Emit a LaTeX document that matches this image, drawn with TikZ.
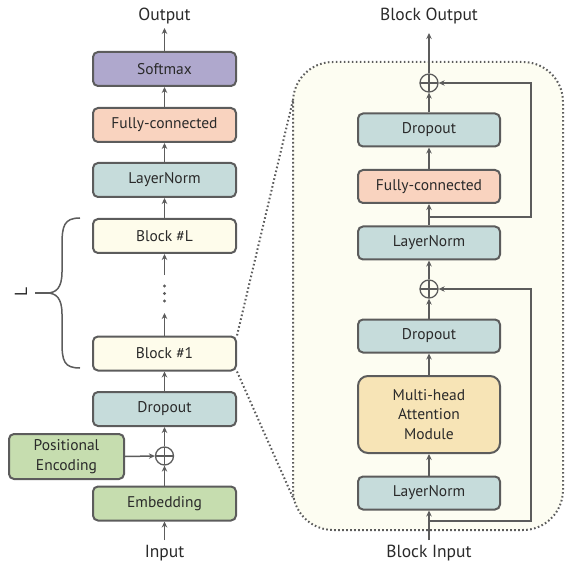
\documentclass[tikz,border=0pt]{standalone}
\usepackage{fontspec}
\setmainfont{PT Sans}
\usetikzlibrary{arrows.meta}
\definecolor{edge}{HTML}{5C5C5C}
\definecolor{txt}{HTML}{2A2A2A}
\definecolor{cpurple}{HTML}{AFA8CD}
\definecolor{csalmon}{HTML}{F9D3BF}
\definecolor{cteal}{HTML}{C6DCDB}
\definecolor{ccream}{HTML}{FEFCEB}
\definecolor{cgreen}{HTML}{C6DDAF}
\definecolor{cmha}{HTML}{F7E4B6}
\definecolor{cpanel}{HTML}{FDFDF2}
\begin{document}
\begin{tikzpicture}[x=1pt,y=-1pt,
  box/.style={draw=edge, line width=2pt, rounded corners=5pt, minimum width=143pt, minimum height=34pt, inner sep=0pt, font=\fontsize{15.5}{17}\selectfont, text=txt},
  rbox/.style={box, minimum width=142pt, minimum height=33pt},
  arr/.style={draw=edge, line width=1.5pt, -{Stealth[length=6pt,width=5.5pt]}},
  plus/.style={circle, draw=edge, line width=1.3pt, minimum size=18pt, inner sep=0pt,
    path picture={\draw[edge, line width=1.3pt] (path picture bounding box.north) -- (path picture bounding box.south) (path picture bounding box.west) -- (path picture bounding box.east);}},
  lbl/.style={font=\fontsize{17.5}{19}\selectfont, text=txt, inner sep=0pt},
  dotline/.style={draw=edge, line width=2pt, dash pattern=on 1.6pt off 2.4pt}
]
\useasboundingbox (0,0) rectangle (565,564);
% panel
\draw[dotline, fill=cpanel, rounded corners=40pt] (293,62) rectangle (563,530);

% left column
\node[lbl] (out) at (164.5,16) {Output};
\node[box, fill=cpurple] (sm) at (164.5,69) {Softmax};
\node[box, fill=csalmon] (fc) at (164.5,125) {Fully-connected};
\node[box, fill=cteal] (ln) at (164.5,180) {LayerNorm};
\node[box, fill=ccream] (bL) at (164.5,236) {Block \#L};
\node[box, fill=ccream] (b1) at (164.5,353.5) {Block \#1};
\node[box, fill=cteal] (dp) at (164.5,409) {Dropout};
\node[plus] (pl) at (164.5,456) {};
\node[box, fill=cgreen] (emb) at (164.5,503.5) {Embedding};
\node[box, fill=cgreen, minimum width=115pt, minimum height=45pt, align=center, font=\fontsize{15.5}{19.5}\selectfont] (pe) at (66.5,456.5) {Positional\\Encoding};
\node[lbl] (in) at (164.5,553) {Input};
\coordinate (outtip) at (164.5,28);
\coordinate (dtop) at (164.5,275);
\coordinate (dbot) at (164.5,313);
\coordinate (intail) at (164.5,540);
\fill[edge] (164.5,286) circle (1.6pt) (164.5,293.5) circle (1.6pt) (164.5,301) circle (1.6pt);

\draw[arr] (sm.north) -- (outtip);
\draw[arr] (fc.north) -- (sm.south);
\draw[arr] (ln.north) -- (fc.south);
\draw[arr] (bL.north) -- (ln.south);
\draw[arr] (dtop) -- (bL.south);
\draw[arr] (b1.north) -- (dbot);
\draw[arr] (dp.north) -- (b1.south);
\draw[arr] (pl.north) -- (dp.south);
\draw[arr] (emb.north) -- (pl.south);
\draw[arr] (pe.east) -- (pl.west);
\draw[arr] (intail) -- (emb.south);

% brace
\draw[edge, line width=1.5pt] (80,218) .. controls (64,218) and (62,226) .. (62,245) -- (62,272)
  .. controls (62,288) and (56,293) .. (47,293) .. controls (56,293) and (62,298) .. (62,314)
  -- (62,342) .. controls (62,361) and (64,368) .. (80,368);
\draw[edge, line width=1.5pt] (35,293) -- (47,293);
\node[lbl, rotate=90] (L) at (21,292) {L};

% dotted zoom lines
\coordinate (zt) at (293,100);
\coordinate (zb) at (294,500);
\draw[dotline] (b1.north east) -- (zt);
\draw[dotline] (b1.south east) -- (zb);

% right column
\node[lbl] (bout) at (429,16) {Block Output};
\node[plus] (p1) at (429,83) {};
\node[rbox, fill=cteal] (rd1) at (429,130) {Dropout};
\node[rbox, fill=csalmon] (rfc) at (429,186.5) {Fully-connected};
\node[rbox, fill=cteal] (rln1) at (429,243) {LayerNorm};
\node[plus] (p2) at (429,289) {};
\node[rbox, fill=cteal] (rd2) at (429,336) {Dropout};
\node[rbox, fill=cmha, minimum height=77pt, rounded corners=10pt, align=center, font=\fontsize{15.5}{19.5}\selectfont] (mha) at (429,414.5) {Multi-head\\Attention\\Module};
\node[rbox, fill=cteal] (rln2) at (429,493) {LayerNorm};
\node[lbl] (bin) at (429,553) {Block Input};
\coordinate (bouttip) at (429,33);
\coordinate (bintail) at (429,540);
\coordinate (br1) at (429,217);
\coordinate (br1r) at (531,217);
\coordinate (br1u) at (531,83);
\coordinate (br2) at (429,521);
\coordinate (br2r) at (531,521);
\coordinate (br2u) at (531,289);

\draw[arr] (p1.north) -- (bouttip);
\draw[arr] (rd1.north) -- (p1.south);
\draw[arr] (rfc.north) -- (rd1.south);
\draw[arr] (rln1.north) -- (rfc.south);
\draw[arr] (p2.north) -- (rln1.south);
\draw[arr] (rd2.north) -- (p2.south);
\draw[arr] (mha.north) -- (rd2.south);
\draw[arr] (rln2.north) -- (mha.south);
\draw[arr] (bintail) -- (rln2.south);
\draw[arr] (br1) -- (br1r) -- (br1u) -- (p1.east);
\draw[arr] (br2) -- (br2r) -- (br2u) -- (p2.east);
\end{tikzpicture}
\end{document}
